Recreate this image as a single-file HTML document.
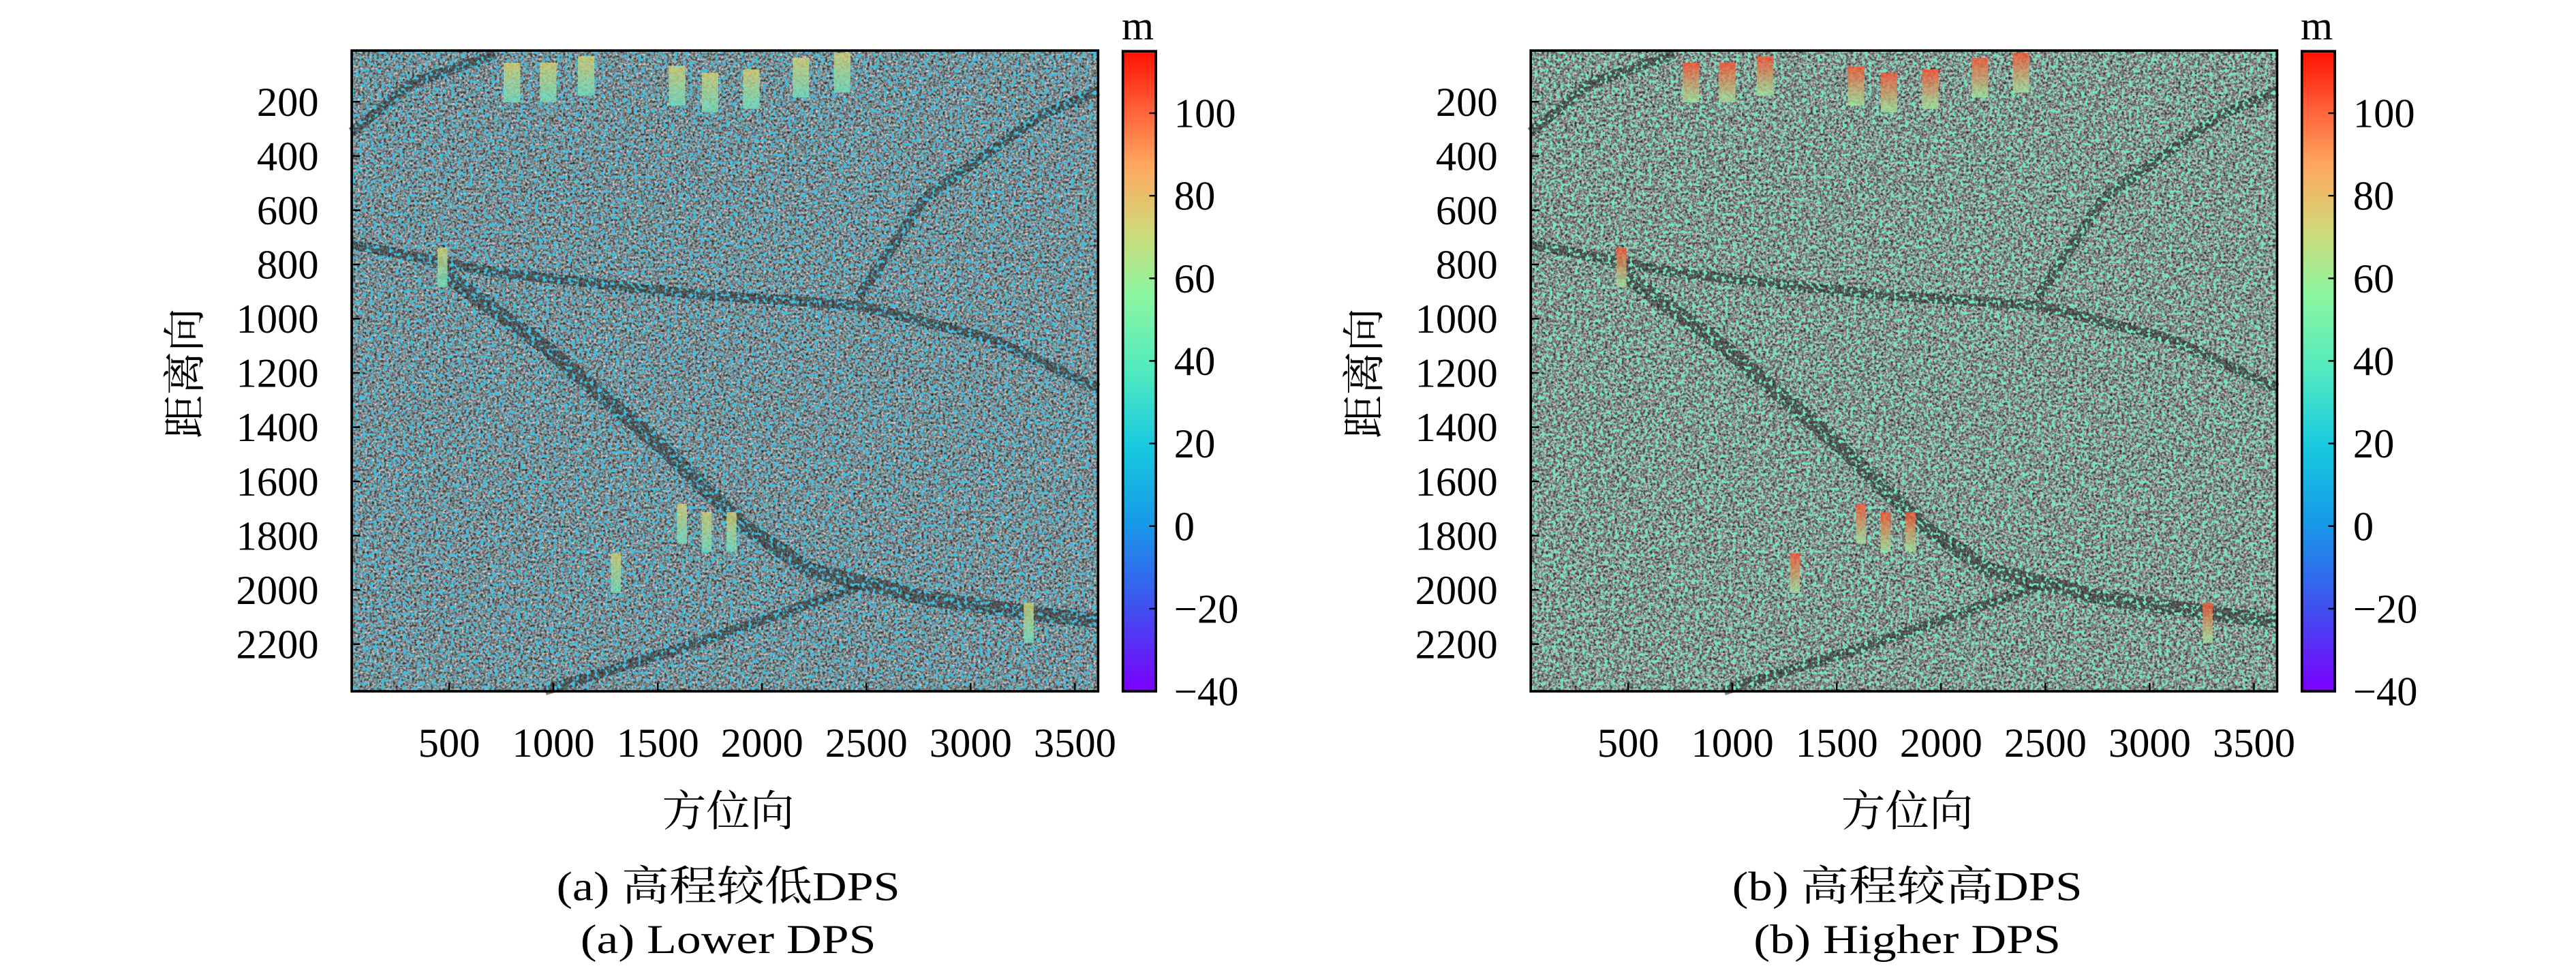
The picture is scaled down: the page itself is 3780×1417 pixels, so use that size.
<!DOCTYPE html>
<html><head><meta charset="utf-8">
<style>
html,body{margin:0;padding:0;background:#fff;}
svg{display:block;}
text{font-family:"Liberation Serif","Noto Serif CJK SC","Noto Sans CJK SC",serif;fill:#000;}
</style></head>
<body>
<svg id="fig" xmlns="http://www.w3.org/2000/svg" width="3780" height="1417" viewBox="0 0 1560 584.8">
<defs>
  <linearGradient id="cmap" x1="0" y1="1" x2="0" y2="0">
    <stop offset="0" stop-color="#7a00ff"/>
    <stop offset="0.13" stop-color="#4050f0"/>
    <stop offset="0.26" stop-color="#1898e8"/>
    <stop offset="0.38" stop-color="#18c8e0"/>
    <stop offset="0.5" stop-color="#50eac0"/>
    <stop offset="0.62" stop-color="#8cf6a0"/>
    <stop offset="0.72" stop-color="#d0d878"/>
    <stop offset="0.82" stop-color="#ffa860"/>
    <stop offset="0.91" stop-color="#ff6038"/>
    <stop offset="1" stop-color="#ff1000"/>
  </linearGradient>
  <filter id="gray" x="0" y="0" width="1" height="1" color-interpolation-filters="sRGB">
    <feTurbulence type="fractalNoise" baseFrequency="0.7" numOctaves="2" seed="5"/>
    <feColorMatrix type="matrix" values="1.1 0 0 0 -0.05  1.1 0 0 0 -0.05  1.1 0 0 0 -0.05  0 0 0 0 1"/>
  </filter>
  <filter id="tealA" x="0" y="0" width="1" height="1" color-interpolation-filters="sRGB">
    <feTurbulence type="fractalNoise" baseFrequency="0.45" numOctaves="2" seed="3"/>
    <feColorMatrix type="matrix" values="0 0 0 0 0.25  0 0 0 0 0.75  0 0 0 0 0.88  6 0 0 0 -3.0"/>
  </filter>
  <filter id="tealB" x="0" y="0" width="1" height="1" color-interpolation-filters="sRGB">
    <feTurbulence type="fractalNoise" baseFrequency="0.45" numOctaves="2" seed="3"/>
    <feColorMatrix type="matrix" values="0 0 0 0 0.45  0 0 0 0 0.9  0 0 0 0 0.74  6 0 0 0 -3.0"/>
  </filter>
  <linearGradient id="hotA" x1="0" y1="0" x2="0" y2="1"><stop offset="0" stop-color="#d8d070"/><stop offset="1" stop-color="#70e0c0"/></linearGradient>
  <linearGradient id="hotB" x1="0" y1="0" x2="0" y2="1"><stop offset="0" stop-color="#ff5030"/><stop offset="1" stop-color="#a0e8a0"/></linearGradient>
</defs>
</svg>
<script>
const yTicks=[200,400,600,800,1000,1200,1400,1600,1800,2000,2200];
const xTicks=[500,1000,1500,2000,2500,3000,3500];
const cbTicks=[-40,-20,0,20,40,60,80,100];
const yDomain=[11,2374];
const xDomain=[33,3611];
const cbDomain=[-40,115];
const panels=[
 {id:'a',ox:0,filt:'tealA',hot:'url(#hotA)',cap1:'(a) 高程较低DPS',cap2:'(a) Lower DPS',l1:208,l2:179},
 {id:'b',ox:714,filt:'tealB',hot:'url(#hotB)',cap1:'(b) 高程较高DPS',cap2:'(b) Higher DPS',l1:212,l2:186}
];
const NS='http://www.w3.org/2000/svg';
const svg=document.getElementById('fig');
function mk(tag,attrs,parent){const e=document.createElementNS(NS,tag);for(const k in attrs)e.setAttribute(k,attrs[k]);(parent||svg).appendChild(e);return e;}
const AX={l:213,r:665,t:30.6,b:418.5};
const CB={l:680,r:700,t:31,b:418.5};
panels.forEach(p=>{
  const g=mk('g',{transform:'translate('+p.ox+',0)'});
  
  
  const xs=v=>AX.l+(v-xDomain[0])/(xDomain[1]-xDomain[0])*(AX.r-AX.l);
  const ys=v=>AX.t+(v-yDomain[0])/(yDomain[1]-yDomain[0])*(AX.b-AX.t);
  const cs=v=>CB.b-(v-cbDomain[0])/(cbDomain[1]-cbDomain[0])*(CB.b-CB.t);
  const img=mk('g',{},g);
  
  
  mk('rect',{x:AX.l,y:AX.t,width:AX.r-AX.l,height:AX.b-AX.t,filter:'url(#gray)'},img);
  const roads=['M213,148 L300,165 L420,178 L520,185 L600,205 L665,235',
   'M268,165 L330,210 L400,270 L450,318 L490,345 L560,362 L630,372 L665,376',
   'M330,418 L420,390 L520,355',
   'M213,80 L250,50 L300,33',
   'M520,180 L560,120 L630,70 L665,55'];
  roads.forEach((d,i)=>{const r=mk('path',{d:d,fill:'none',stroke:'#303030','stroke-width':i==1?9:6,'stroke-opacity':0.6},img);
    
    });
  mk('rect',{x:AX.l,y:AX.t,width:AX.r-AX.l,height:AX.b-AX.t,filter:'url(#'+p.filt+')'},img);
  [[305,38],[327,38],[350,34],[405,40],[425,44],[450,42],[480,35],[505,32],[265,150],[410,305],[425,310],[440,310],[370,335],[620,365]].forEach((s,i)=>{
    const r=mk('rect',{x:s[0],y:s[1],width:i<8?10:6,height:24,fill:p.hot,opacity:0.8},img);
    
    
  });
  const frame=mk('rect',{x:AX.l,y:AX.t,width:AX.r-AX.l,height:AX.b-AX.t,fill:'none',stroke:'#000','stroke-width':1.5},g);
  
  
  yTicks.forEach(v=>{
    mk('line',{x1:AX.l,x2:AX.l+5,y1:ys(v),y2:ys(v),stroke:'#000','stroke-width':1},g);
    const t=mk('text',{x:193,y:ys(v)+8.5,'text-anchor':'end','font-size':25},g);
    t.textContent=v;
    
    
  });
  xTicks.forEach(v=>{
    mk('line',{x1:xs(v),x2:xs(v),y1:AX.b,y2:AX.b-5,stroke:'#000','stroke-width':1},g);
    const t=mk('text',{x:xs(v),y:458,'text-anchor':'middle','font-size':25},g);
    t.textContent=v;
    
    
  });
  const cb=mk('rect',{x:CB.l,y:CB.t,width:CB.r-CB.l,height:CB.b-CB.t,fill:'url(#cmap)',stroke:'#000','stroke-width':1.5},g);
  
  
  cbTicks.forEach(v=>{
    mk('line',{x1:CB.r-4,x2:CB.r,y1:cs(v),y2:cs(v),stroke:'#000','stroke-width':1},g);
    const t=mk('text',{x:711,y:cs(v)+8.5,'text-anchor':'start','font-size':25},g);
    t.textContent=(v<0?'\u2212'+(-v):v);
    
    
  });
  const u=mk('text',{x:689,y:24,'text-anchor':'middle','font-size':25},g);
  u.textContent='m';
  
  
  const xl=mk('text',{x:441,y:500,'text-anchor':'middle','font-size':26,textLength:80,lengthAdjust:'spacingAndGlyphs'},g);
  xl.textContent='方位向';
  
  
  const yl=mk('text',{x:0,y:0,'text-anchor':'middle','font-size':26,textLength:79,lengthAdjust:'spacingAndGlyphs',transform:'translate(121,226) rotate(-90)'},g);
  yl.textContent='距离向';
  
  
  const c1=mk('text',{x:441,y:545,'text-anchor':'middle','font-size':25,textLength:p.l1,lengthAdjust:'spacingAndGlyphs'},g);
  c1.textContent=p.cap1;
  
  
  const c2=mk('text',{x:441,y:577,'text-anchor':'middle','font-size':25,textLength:p.l2,lengthAdjust:'spacingAndGlyphs'},g);
  c2.textContent=p.cap2;
  
  
});
</script>
</body></html>
